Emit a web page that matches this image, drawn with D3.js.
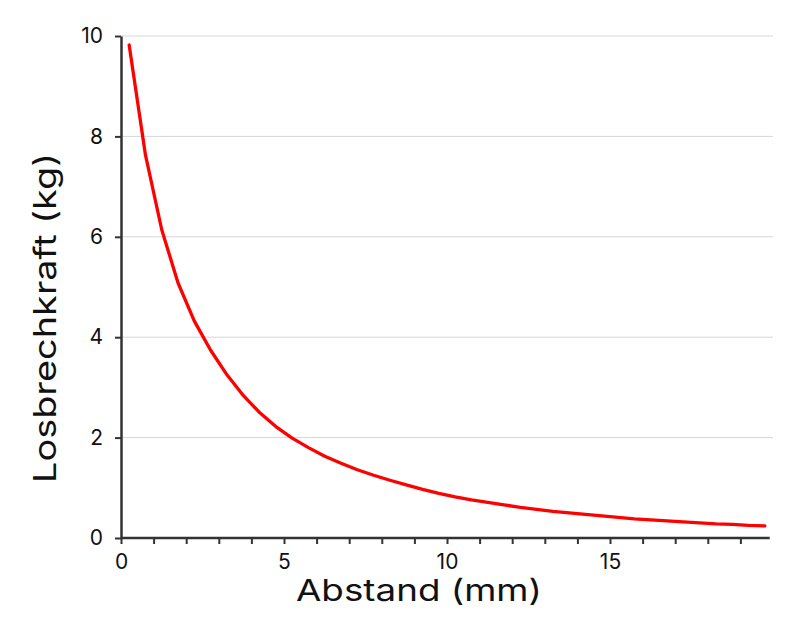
<!DOCTYPE html>
<html>
<head>
<meta charset="utf-8">
<script src="https://cdn.jsdelivr.net/npm/d3@7"></script>
<style>
  body { margin: 0; background: #fff; }
  text { font-family: Inter, "Noto Sans", sans-serif; fill: #111; }
</style>
</head>
<body>
<svg id="chart" width="800" height="639"></svg>
<script>
// Abstand (mm) vs Losbrechkraft (kg)
var abstand = [0.25, 0.75, 1.25, 1.75, 2.25, 2.75, 3.25, 3.75, 4.25, 4.75,
               5.25, 5.75, 6.25, 6.75, 7.25, 7.75, 8.25, 8.75, 9.25, 9.75,
               10.25, 10.75, 11.25, 11.75, 12.25, 12.75, 13.25, 13.75, 14.25, 14.75,
               15.25, 15.75, 16.25, 16.75, 17.25, 17.75, 18.25, 18.75, 19.25, 19.75];
var kraft = [9.82, 7.63, 6.14, 5.08, 4.32, 3.74, 3.25, 2.84, 2.50, 2.22,
             1.99, 1.80, 1.63, 1.49, 1.36, 1.25, 1.15, 1.06, 0.97, 0.89,
             0.82, 0.76, 0.71, 0.66, 0.61, 0.57, 0.53, 0.50, 0.47, 0.44,
             0.41, 0.38, 0.36, 0.34, 0.32, 0.30, 0.28, 0.27, 0.25, 0.24];
var xTicks = d3.range(0, 20);
var xLabels = [0, 5, 10, 15];
var yTicks = [0, 2, 4, 6, 8, 10];

var margin = {top: 36, right: 27, bottom: 101, left: 121},
    width = 800 - margin.left - margin.right,
    height = 639 - margin.top - margin.bottom;

var svg = d3.select("#chart").append("g")
    .attr("transform", "translate(" + margin.left + "," + margin.top + ")");

var x = d3.scaleLinear().domain([0, 20]).range([0, width]);
var y = d3.scaleLinear().domain([0, 10]).range([height, 0]);

// gridlines
svg.selectAll("line.grid")
    .data(yTicks.filter(function(d) { return d > 0; }))
    .enter().append("line")
    .attr("class", "grid")
    .attr("x1", 0).attr("x2", width)
    .attr("y1", function(d) { return y(d); })
    .attr("y2", function(d) { return y(d); })
    .attr("stroke", "#d6d6d6").attr("stroke-width", 1);

// x axis
var gx = svg.append("g")
    .attr("transform", "translate(0," + height + ")")
    .call(d3.axisBottom(x).tickValues(xTicks).tickSize(6).tickSizeOuter(0)
        .tickFormat(function(d) { return xLabels.indexOf(d) >= 0 ? d : ""; }));
gx.select(".domain").attr("stroke", "#333").attr("stroke-width", 2.5)
    .attr("d", "M0,0H" + (x(19.9)));
gx.selectAll(".tick line").attr("stroke", "#333").attr("stroke-width", 2);
gx.selectAll(".tick text").attr("font-size", 21).attr("y", 16)
    .style("font-family", "Inter, sans-serif").attr("fill", "#111");

// y axis
var gy = svg.append("g")
    .call(d3.axisLeft(y).tickValues(yTicks).tickSize(6).tickSizeOuter(0));
gy.select(".domain").attr("stroke", "#333").attr("stroke-width", 2.5);
gy.selectAll(".tick line").attr("stroke", "#333").attr("stroke-width", 2);
gy.selectAll(".tick text").attr("font-size", 21).attr("x", -18)
    .style("font-family", "Inter, sans-serif").attr("fill", "#111");

// curve
var line = d3.line()
    .x(function(d, i) { return x(abstand[i]); })
    .y(function(d) { return y(d); });
svg.append("path")
    .datum(kraft)
    .attr("fill", "none")
    .attr("stroke", "#ff0000")
    .attr("stroke-width", 3.3)
    .attr("stroke-linejoin", "round")
    .attr("stroke-linecap", "round")
    .attr("d", line);

// axis titles
svg.append("text")
    .attr("x", 419 - margin.left)
    .attr("y", 601 - margin.top)
    .attr("text-anchor", "middle")
    .attr("font-size", 30)
    .attr("textLength", 246)
    .attr("lengthAdjust", "spacingAndGlyphs")
    .text("Abstand (mm)");
svg.append("text")
    .attr("transform", "translate(" + (56 - margin.left) + "," + (318 - margin.top) + ") rotate(-90)")
    .attr("text-anchor", "middle")
    .attr("font-size", 31)
    .attr("textLength", 330)
    .attr("lengthAdjust", "spacingAndGlyphs")
    .text("Losbrechkraft (kg)");
</script>
</body>
</html>
